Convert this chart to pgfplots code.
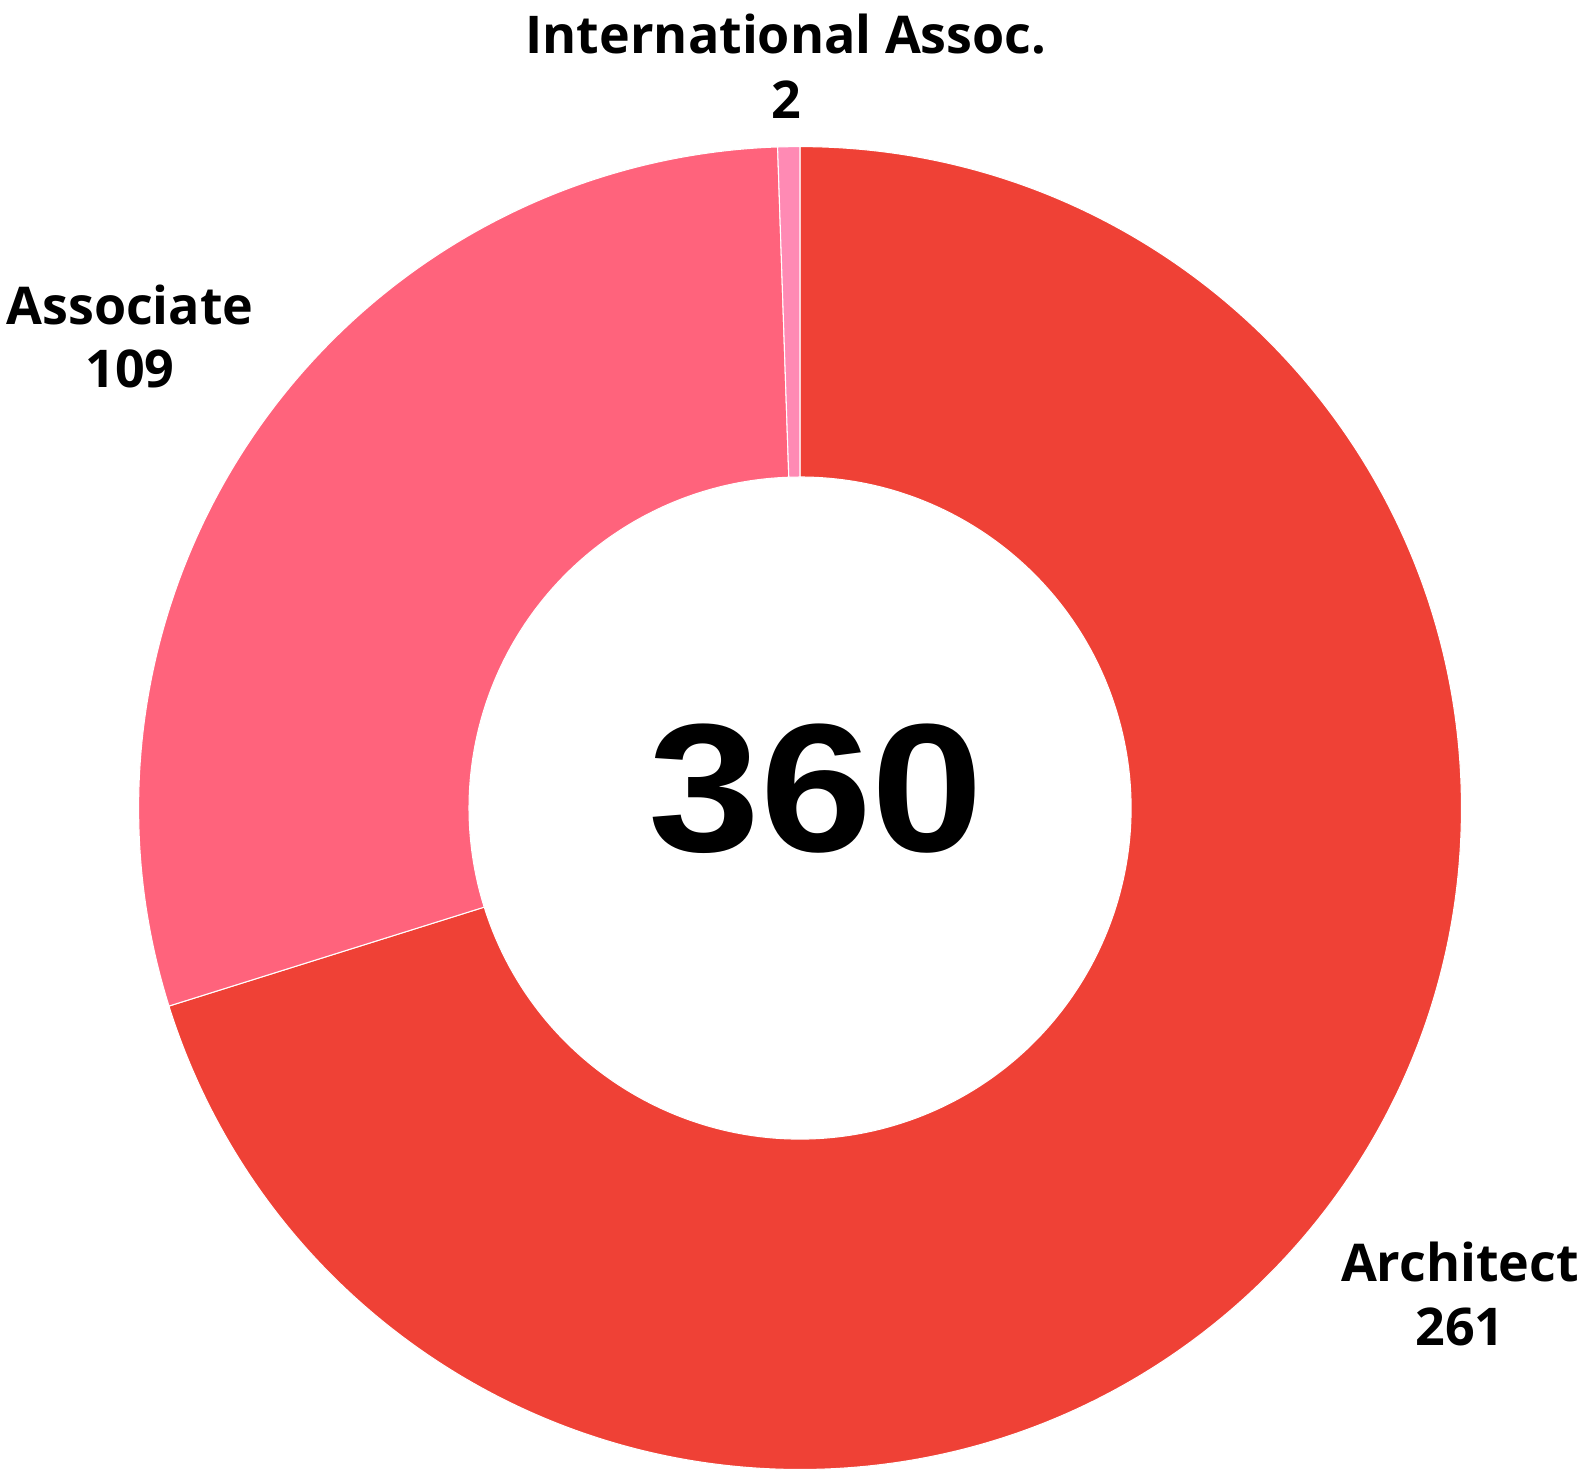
\documentclass[border=0pt]{standalone}
\usepackage{pgfplots}
\usepackage{pgfplotstable}
\usepackage{fontspec}
\pgfplotsset{compat=1.18}
\setmainfont{Open Sans}
\newfontfamily\numfont[FakeStretch=1.1]{Liberation Sans}
\definecolor{archc}{RGB}{239,65,54}
\definecolor{assoc}{RGB}{255,99,124}
\definecolor{intlc}{RGB}{255,138,180}

\pgfplotstableread{
value
261
109
2
}\datatable

\pgfplotstablegetelem{0}{value}\of\datatable \let\vA\pgfplotsretval
\pgfplotstablegetelem{1}{value}\of\datatable \let\vB\pgfplotsretval
\pgfplotstablegetelem{2}{value}\of\datatable \let\vC\pgfplotsretval
\pgfmathsetmacro\tot{\vA+\vB+\vC}
\pgfmathsetmacro\aZ{90}
\pgfmathsetmacro\aA{90-360*(\vA/\tot)}
\pgfmathsetmacro\aB{\aA-360*(\vB/\tot)}
\pgfmathsetmacro\aC{\aB-360*(\vC/\tot)}
% radii in axis units (1 unit = 100 px of reference) and in cm (x=0.5cm)
\def\ro{6.614}\def\ri{3.31}
\def\roc{3.307cm}\def\ric{1.655cm}

\newcommand\ringwedge[3]{%
  \fill[overlay, #3, draw=white, line width=0.15pt] (axis cs:{\ro*cos(#1)},{\ro*sin(#1)})
    arc[start angle=#1, end angle=#2, radius=\roc]
    -- (axis cs:{\ri*cos(#2)},{\ri*sin(#2)})
    arc[start angle=#2, end angle=#1, radius=\ric] -- cycle;}

\begin{document}
\begin{tikzpicture}
\begin{axis}[
  x=0.5cm, y=0.5cm,
  xmin=-8, xmax=7.88, ymin=-6.62, ymax=8.08,
  axis line style={draw=none}, ticks=none, clip=false,
]
\addplot[draw=none, forget plot] coordinates {(0,0)};
\ringwedge{\aZ}{\aA}{archc}
\ringwedge{\aA}{\aB}{assoc}
\ringwedge{\aB}{\aC}{intlc}

\tikzset{lbl/.style={anchor=base, inner sep=0pt, font=\fontsize{7.4}{9}\selectfont\bfseries}}
\node[lbl] at (axis cs:-0.14,7.54) {International Assoc.};
\node[lbl] at (axis cs:-0.14,6.90) {2};
\node[lbl] at (axis cs:-6.70,4.84) {Associate};
\node[lbl] at (axis cs:-6.70,4.21) {109};
\node[lbl] at (axis cs:6.60,-4.73) {Architect};
\node[lbl] at (axis cs:6.60,-5.37) {261};
\node[anchor=base, inner sep=0pt, font=\numfont\fontsize{26}{30}\selectfont\bfseries] at (axis cs:0.16,-0.43) {360};
\end{axis}
\end{tikzpicture}
\end{document}
